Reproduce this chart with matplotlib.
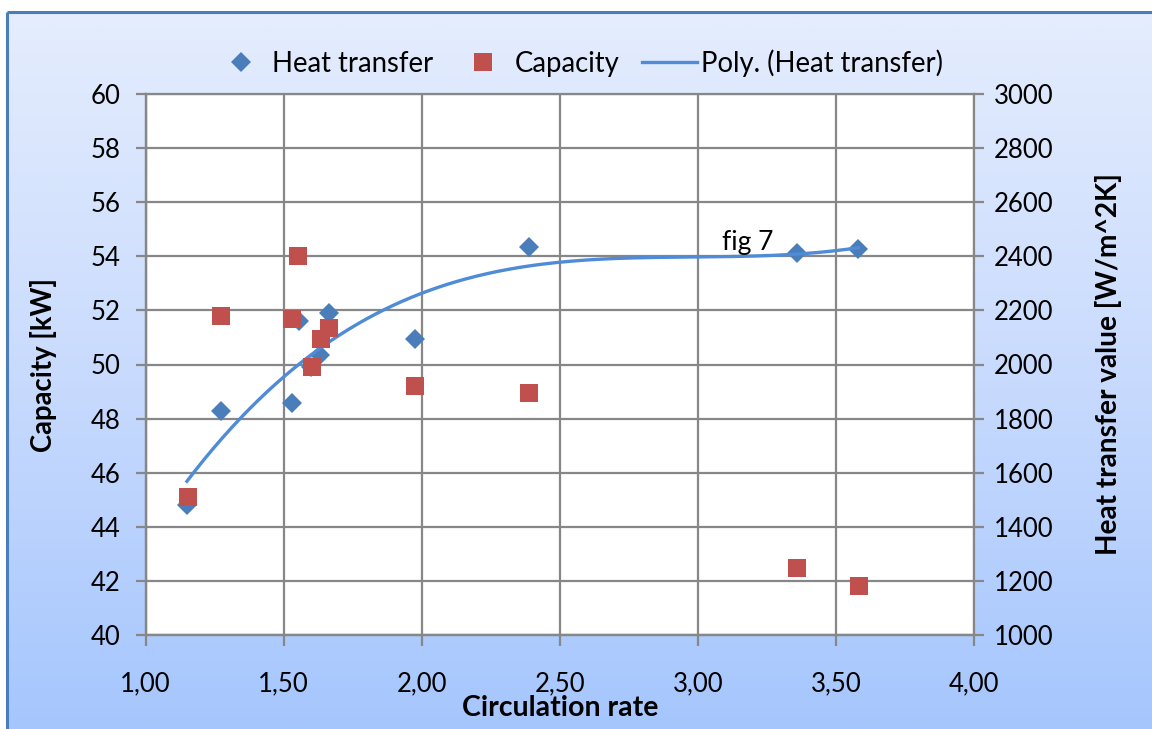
import numpy as np
import matplotlib
matplotlib.use("Agg")
import matplotlib.pyplot as plt
from matplotlib.lines import Line2D
from matplotlib.colors import LinearSegmentedColormap

# ---- data ----
heat_x = [1.150, 1.273, 1.529, 1.557, 1.600, 1.632, 1.664, 1.976, 2.389, 3.358, 3.581]
heat_transfer = [1481, 1828, 1859, 2162, 1990, 2035, 2189, 2094, 2433, 2411, 2426]
cap_x = [1.155, 1.273, 1.531, 1.551, 1.602, 1.634, 1.665, 1.976, 2.389, 3.358, 3.582]
capacity = [45.09, 51.79, 51.67, 54.02, 49.90, 50.93, 51.34, 49.22, 48.96, 42.47, 41.82]
poly_order = 3

x_ticks = [1.0, 1.5, 2.0, 2.5, 3.0, 3.5, 4.0]
x_ticklabels = ["1,00", "1,50", "2,00", "2,50", "3,00", "3,50", "4,00"]
cap_ticks = list(range(40, 61, 2))
heat_ticks = list(range(1000, 3001, 200))

FONT = "Lato"
FS = 18.5
plt.rcParams['font.family'] = [FONT, 'DejaVu Sans']

W, H = 1152, 729
fig = plt.figure(figsize=(W / 100, H / 100), dpi=100)
fig.patch.set_facecolor("white")

# background gradient with border
bg = fig.add_axes([0, 0, 1, 1], zorder=-10)
bg.set_xlim(0, W)
bg.set_ylim(H, 0)
bg.axis("off")
cmap = LinearSegmentedColormap.from_list("g", ["#E5EDFD", "#C9DBFD", "#A5C6FE"])
grad = np.linspace(0, 1, 256).reshape(-1, 1)
bg.imshow(grad, cmap=cmap, extent=[7, W, H, 12], aspect="auto")
bg.plot([7, W], [12, 12], color="#4A7EBB", lw=2.2, solid_capstyle="butt")
bg.plot([7, 7], [12, H], color="#4A7EBB", lw=2.2, solid_capstyle="butt")

left, right, top, bottom = 145.5, 974.0, 94.0, 635.0
rect = [left / W, 1 - bottom / H, (right - left) / W, (bottom - top) / H]
ax2 = fig.add_axes(rect)                 # heat transfer (right axis), with grid
ax = fig.add_axes(rect, sharex=ax2)      # capacity (left axis), drawn on top

ax2.set_zorder(1)
ax.set_zorder(2)
ax.patch.set_visible(False)
ax2.set_facecolor("white")

grid_c = "#878787"
ax2.set_xlim(1.0, 4.0)
ax2.set_ylim(1000, 3000)
ax.set_ylim(40, 60)
ax2.set_xticks(x_ticks)
ax2.set_xticklabels(x_ticklabels)
ax2.set_yticks(heat_ticks)
ax2.yaxis.tick_right()
ax2.yaxis.set_label_position("right")
ax2.grid(True, color=grid_c, lw=1.6)
ax2.set_axisbelow(True)
ax.set_yticks(cap_ticks)
ax.tick_params(axis="x", bottom=False, labelbottom=False)

for a in (ax, ax2):
    for s in a.spines.values():
        s.set_color(grid_c)
        s.set_linewidth(1.6)
ax.spines["right"].set_visible(False)
ax.spines["top"].set_visible(False)

ax.tick_params(axis="y", direction="out", length=7, width=1.6, color=grid_c,
               labelsize=FS, pad=11)
ax2.tick_params(axis="y", direction="out", length=7, width=1.6, color=grid_c,
                labelsize=FS, pad=7)
ax2.tick_params(axis="x", direction="out", length=8, width=1.6, color=grid_c,
                labelsize=FS, pad=18)

# series
blue = "#4A7EBB"
trend_c = "#4F8BD6"
red = "#C0504D"
ax2.plot(heat_x, heat_transfer, linestyle="none", marker="D", markersize=10.5,
         color=blue, markeredgewidth=0, zorder=3)
coef = np.polyfit(heat_x, heat_transfer, poly_order)
xs = np.linspace(min(heat_x), max(heat_x), 300)
ax2.plot(xs, np.polyval(coef, xs), color=trend_c, lw=2.4, zorder=4)
ax.plot(cap_x, capacity, linestyle="none", marker="s", markersize=13.5,
        color=red, markeredgewidth=0, zorder=5)

ax2.text(3.088, 2450, "fig 7", fontsize=19, ha="left", va="center", zorder=6)

ax.set_ylabel("Capacity [kW]", fontsize=19.8, fontweight="bold", labelpad=24)
ax2.set_ylabel("Heat transfer value [W/m^2K]", fontsize=20.2, fontweight="bold",
               rotation=90, labelpad=30)
ax2.set_xlabel("Circulation rate", fontsize=20.5, fontweight="bold", labelpad=-1)

handles = [
    Line2D([], [], linestyle="none", marker="D", markersize=10.5, color=blue,
           markeredgewidth=0),
    Line2D([], [], linestyle="none", marker="s", markersize=13.5, color=red,
           markeredgewidth=0),
    Line2D([], [], color=trend_c, lw=2.4),
]
labels = ["Heat transfer", "Capacity", "Poly. (Heat transfer)"]
fig.legend(handles, labels, loc="center", bbox_to_anchor=(578 / W, 1 - 63 / H),
           ncol=3, frameon=False, fontsize=19.8, handlelength=2.0,
           handletextpad=0.15, columnspacing=0.8)

fig.savefig("out.png", dpi=100)
